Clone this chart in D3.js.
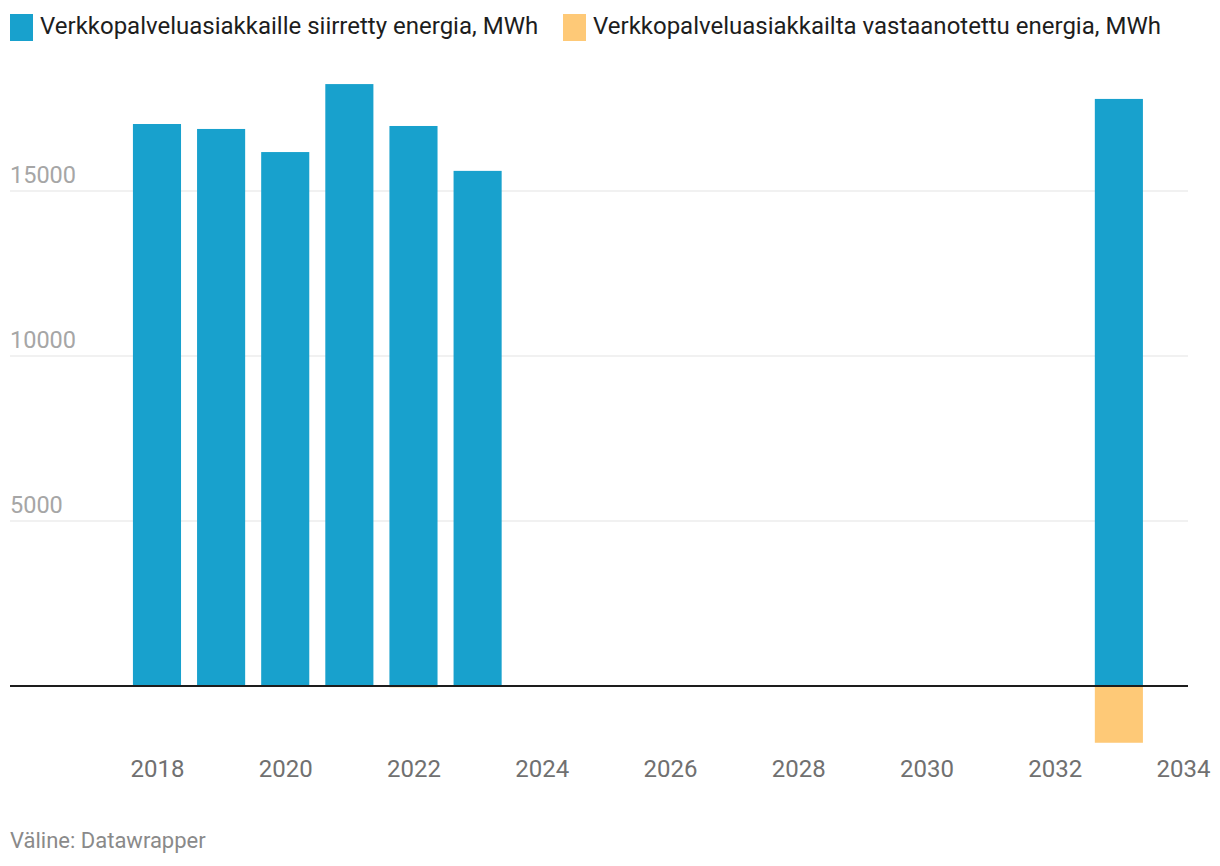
<!DOCTYPE html>
<html><head><meta charset="utf-8">
<script src="https://cdn.jsdelivr.net/npm/d3@7"></script>
<style>
html,body{margin:0;padding:0;background:#fff;}
svg{display:block;font-family:Roboto,"Noto Sans",sans-serif;}
</style></head>
<body>
<svg id="c" width="1220" height="866"></svg>
<script>
const years = [2018, 2019, 2020, 2021, 2022, 2023, 2033];
const delivered = [17030, 16880, 16180, 18240, 16970, 15610, 17790];
const received = [0, 0, 0, 0, -40, 0, -1720];
const seriesNames = ["Verkkopalveluasiakkaille siirretty energia, MWh", "Verkkopalveluasiakkailta vastaanotettu energia, MWh"];
const colors = ["#18a1cd", "#fec977"];
const yTicks = [5000, 10000, 15000];
const xTicks = [2018, 2020, 2022, 2024, 2026, 2028, 2030, 2032, 2034];
const source = "Väline: Datawrapper";

const svg = d3.select("#c");
const x = d3.scaleLinear().domain([2015.708, 2034.078]).range([10, 1188]);
const y = d3.scaleLinear().domain([0, 15000]).range([686, 191]);
const bw = (x(2019) - x(2018)) * 0.75;

// legend
const leg = svg.append("g");
const lx = [10, 563];
seriesNames.forEach((n, i) => {
  leg.append("rect").attr("x", lx[i]).attr("y", 14).attr("width", 23).attr("height", 27).attr("fill", colors[i]);
  leg.append("text").attr("x", lx[i] + 30).attr("y", 34).attr("font-size", 24).attr("fill", "#1d1d1d").text(n);
});

// gridlines
const grid = svg.append("g");
yTicks.forEach(t => {
  grid.append("line").attr("x1", 10).attr("x2", 1188).attr("y1", y(t)).attr("y2", y(t))
    .attr("stroke", "#e3e3e3").attr("stroke-width", 1);
  grid.append("text").attr("x", 10).attr("y", y(t) - 8).attr("font-size", 23.5).attr("fill", "#a6a6a6").text(t);
});

// bars
const data = years.map((yr, i) => ({yr, a: delivered[i], b: received[i]}));
svg.append("g").selectAll("rect").data(data).join("rect")
  .attr("x", d => x(d.yr) - bw / 2).attr("width", bw)
  .attr("y", d => y(d.a)).attr("height", d => y(0) - y(d.a)).attr("fill", colors[0]);
svg.append("g").selectAll("rect").data(data.filter(d => d.b < 0)).join("rect")
  .attr("x", d => x(d.yr) - bw / 2).attr("width", bw)
  .attr("y", y(0)).attr("height", d => y(d.b) - y(0)).attr("fill", colors[1]);

// baseline
svg.append("line").attr("x1", 10).attr("x2", 1188).attr("y1", y(0)).attr("y2", y(0))
  .attr("stroke", "#1d1d1d").attr("stroke-width", 2);

// x axis
const xa = svg.append("g").attr("transform", "translate(0,777)")
  .call(d3.axisBottom(x).tickValues(xTicks).tickFormat(d3.format("d")).tickSize(0).tickPadding(0));
xa.select(".domain").remove();
xa.selectAll("text").attr("font-size", 24).attr("fill", "#707070").attr("dy", 0)
  .attr("font-family", "Roboto,'Noto Sans',sans-serif");

// source
svg.append("text").attr("x", 10).attr("y", 848).attr("font-size", 22).attr("fill", "#8a8a8a").text(source);
</script>
</body></html>
